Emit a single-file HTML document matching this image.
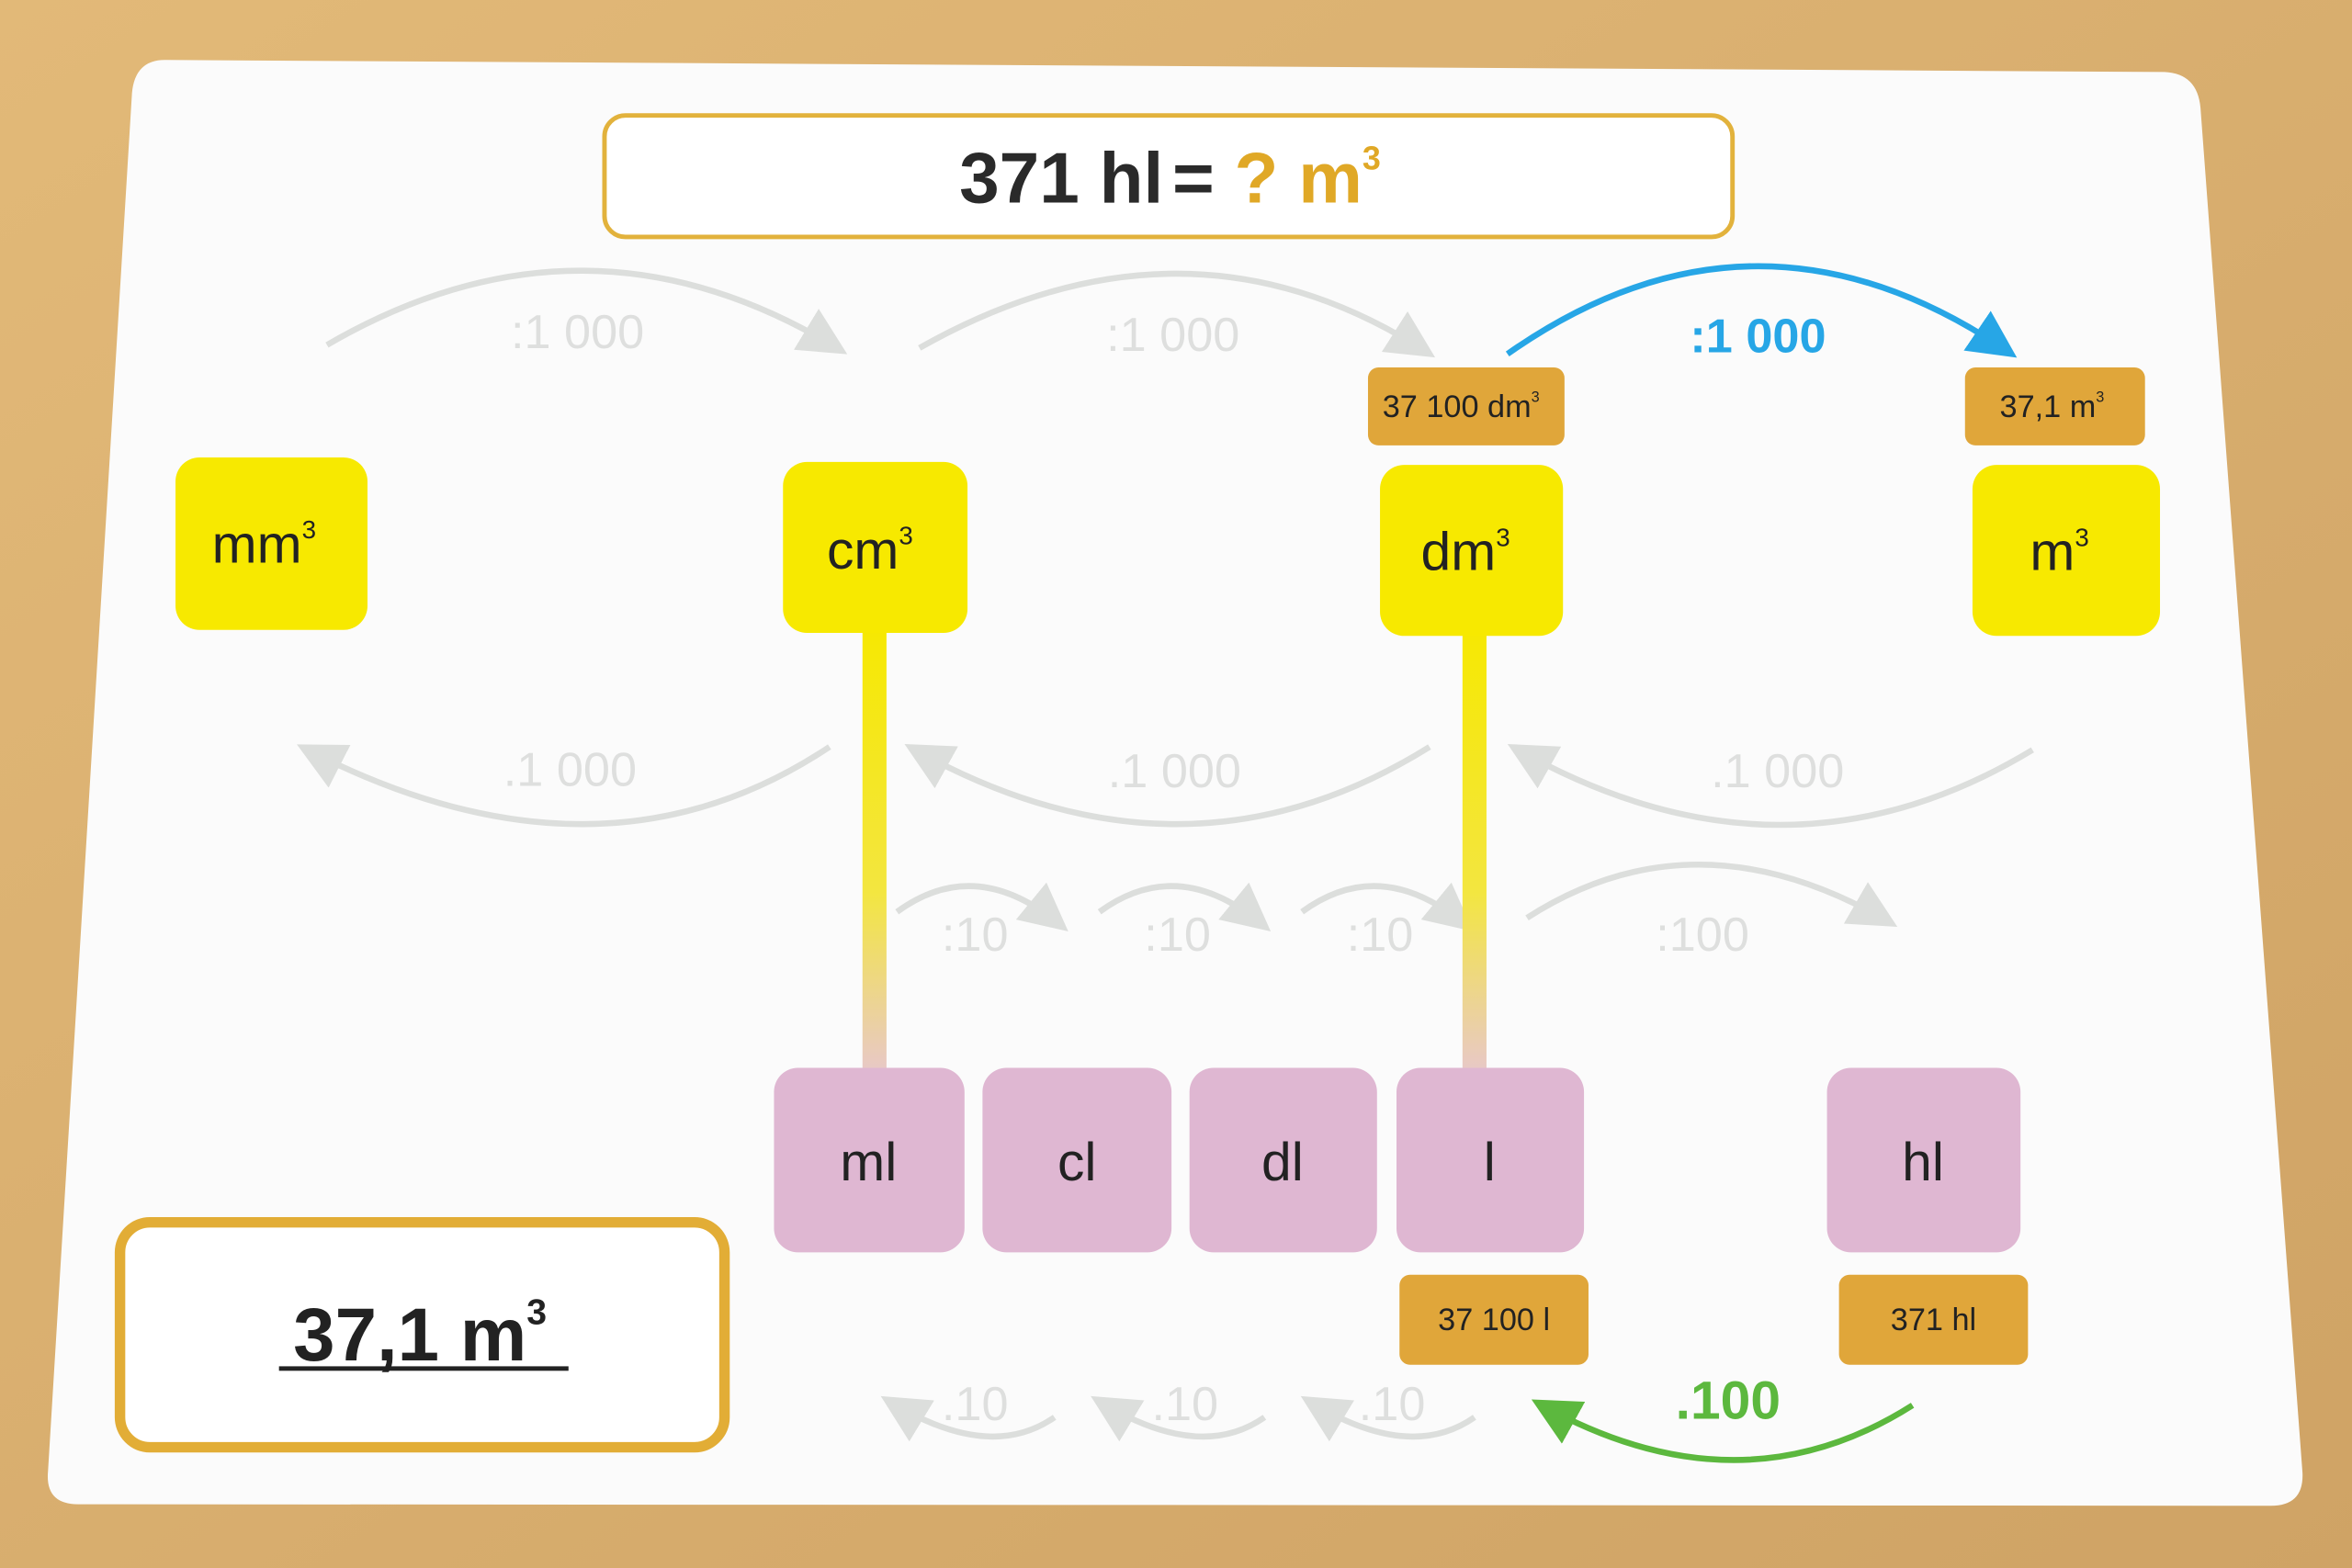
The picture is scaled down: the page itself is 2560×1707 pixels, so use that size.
<!DOCTYPE html>
<html><head><meta charset="utf-8"><style>
html,body{margin:0;padding:0;width:2560px;height:1707px;overflow:hidden;background:#d8ad6c;}
svg{display:block}
text{font-family:"Liberation Sans",sans-serif;}
</style></head><body>
<svg width="2560" height="1707" viewBox="0 0 1568 1045.5" preserveAspectRatio="none">
<defs>
<linearGradient id="bg" x1="0" y1="0" x2="1" y2="1"><stop offset="0" stop-color="#e2b978"/><stop offset="1" stop-color="#cfa365"/></linearGradient>
<linearGradient id="bar" x1="0" y1="0" x2="0" y2="1"><stop offset="0" stop-color="#f6e800"/><stop offset="0.6" stop-color="#f3e640"/><stop offset="1" stop-color="#e8c8c8"/></linearGradient>
<marker id="ag" markerWidth="8" markerHeight="8" refX="6" refY="4" orient="auto" markerUnits="strokeWidth"><path d="M0,0 L8,4 L0,8 Z" fill="#dcdedc"/></marker>
<marker id="ab" markerWidth="8" markerHeight="8" refX="6" refY="4" orient="auto" markerUnits="strokeWidth"><path d="M0,0 L8,4 L0,8 Z" fill="#27a6e6"/></marker>
<marker id="agr" markerWidth="8" markerHeight="8" refX="6" refY="4" orient="auto" markerUnits="strokeWidth"><path d="M0,0 L8,4 L0,8 Z" fill="#5cb83e"/></marker>
</defs>
<rect width="1568" height="1045.5" fill="url(#bg)"/>
<path d="M110,40 L1443,48 Q1465,49 1467,72 L1535,982 Q1536,1004 1514,1004 L52,1003 Q30,1003 32,981 L88,62 Q90,40 110,40 Z" fill="#fbfbfb"/>
<rect x="403" y="77" width="752" height="81" rx="14" fill="#fff" stroke="#e2b23c" stroke-width="3"/>
<text x="780" y="135" text-anchor="middle" font-size="48" font-weight="bold" fill="#2a2a2a">371 hl<tspan dx="6">=</tspan> <tspan fill="#e0a826">? m</tspan><tspan fill="#e0a826" font-size="22" dy="-22">3</tspan></text>

<g fill="none" stroke="#dcdedc" stroke-width="4">
<path d="M218,230 Q390,130 558,232" marker-end="url(#ag)"/>
<path d="M613,232 Q790,132 950,234" marker-end="url(#ag)"/>
<path d="M553,498 Q400,600 205,500" marker-end="url(#ag)"/>
<path d="M953,498 Q790,600 610,500" marker-end="url(#ag)"/>
<path d="M1355,500 Q1190,600 1012,500" marker-end="url(#ag)"/>
<path d="M598,608 Q650,570 706,616" marker-end="url(#ag)"/>
<path d="M733,608 Q785,570 841,616" marker-end="url(#ag)"/>
<path d="M868,608 Q920,570 976,616" marker-end="url(#ag)"/>
<path d="M1018,612 Q1130,540 1258,614" marker-end="url(#ag)"/>
<path d="M703,945 Q660,975 594,935" marker-end="url(#ag)"/>
<path d="M843,945 Q800,975 734,935" marker-end="url(#ag)"/>
<path d="M983,945 Q940,975 874,935" marker-end="url(#ag)"/>
</g>
<path d="M1005,236 Q1170,120 1338,234" fill="none" stroke="#27a6e6" stroke-width="4" marker-end="url(#ab)"/>
<path d="M1275,937 Q1160,1010 1028,937" fill="none" stroke="#5cb83e" stroke-width="4" marker-end="url(#agr)"/>
<g fill="#dedfde" font-size="32" text-anchor="middle">
<text x="385" y="232">:1 000</text><text x="782" y="234">:1 000</text>
<text x="380" y="524">.1 000</text><text x="783" y="525">.1 000</text><text x="1185" y="525">.1 000</text>
<text x="650" y="634">:10</text><text x="785" y="634">:10</text><text x="920" y="634">:10</text><text x="1135" y="634">:100</text>
<text x="650" y="947">.10</text><text x="790" y="947">.10</text><text x="928" y="947">.10</text>
</g>
<text x="1172" y="235" text-anchor="middle" font-size="32" font-weight="bold" fill="#27a6e6">:1 000</text>
<text x="1152" y="946" text-anchor="middle" font-size="36" font-weight="bold" fill="#5cb83e">.100</text>

<rect x="575" y="415" width="16" height="300" fill="url(#bar)"/>
<rect x="975" y="415" width="16" height="300" fill="url(#bar)"/>

<g fill="#f7e900">
<rect x="117" y="305" width="128" height="115" rx="16"/>
<rect x="522" y="308" width="123" height="114" rx="16"/>
<rect x="920" y="310" width="122" height="114" rx="16"/>
<rect x="1315" y="310" width="125" height="114" rx="16"/>
</g>
<g font-size="36" fill="#222" text-anchor="middle">
<text x="176" y="375">mm<tspan font-size="17" dy="-16">3</tspan></text>
<text x="580" y="379">cm<tspan font-size="17" dy="-16">3</tspan></text>
<text x="977" y="380">dm<tspan font-size="17" dy="-16">3</tspan></text>
<text x="1373" y="380">m<tspan font-size="17" dy="-16">3</tspan></text>
</g>
<g fill="#dfb7d2">
<rect x="516" y="712" width="127" height="123" rx="16"/>
<rect x="655" y="712" width="126" height="123" rx="16"/>
<rect x="793" y="712" width="125" height="123" rx="16"/>
<rect x="931" y="712" width="125" height="123" rx="16"/>
<rect x="1218" y="712" width="129" height="123" rx="16"/>
</g>
<g font-size="36" fill="#222" text-anchor="middle">
<text x="579" y="787">ml</text><text x="718" y="787">cl</text><text x="855" y="787">dl</text><text x="993" y="787">l</text><text x="1282" y="787">hl</text>
</g>
<g fill="#e0a63a">
<rect x="912" y="245" width="131" height="52" rx="7"/>
<rect x="1310" y="245" width="120" height="52" rx="7"/>
<rect x="933" y="850" width="126" height="60" rx="7"/>
<rect x="1226" y="850" width="126" height="60" rx="7"/>
</g>
<g font-size="21" fill="#222" text-anchor="middle">
<text x="974" y="278">37 100 dm<tspan font-size="10" dy="-10">3</tspan></text>
<text x="1368" y="278">37,1 m<tspan font-size="10" dy="-10">3</tspan></text>
<text x="996" y="887">37 100 l</text>
<text x="1289" y="887">371 hl</text>
</g>
<rect x="80" y="815" width="403" height="150" rx="20" fill="#fff" stroke="#e2ad36" stroke-width="7"/>
<text x="280" y="907" text-anchor="middle" font-size="50" font-weight="bold" fill="#222">37,1 m<tspan font-size="24" dy="-24">3</tspan></text>
<rect x="186" y="911" width="193" height="3" fill="#222"/>
</svg>
</body></html>
